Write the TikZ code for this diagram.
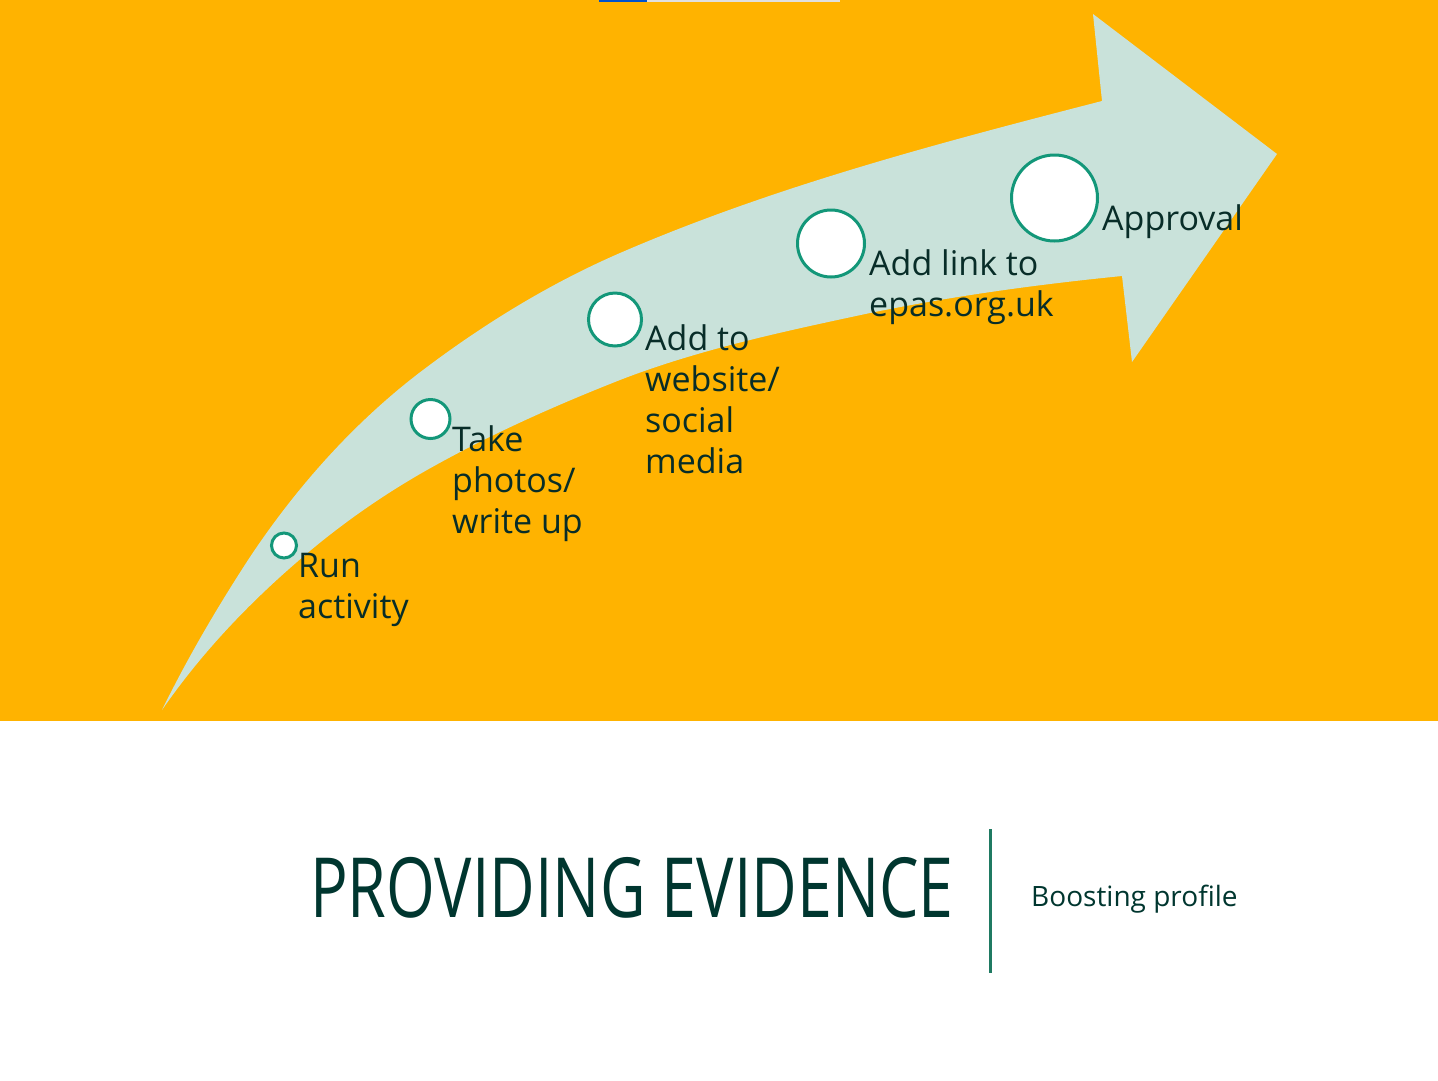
\documentclass[tikz,border=0pt]{standalone}
\usepackage{fontspec}
\setmainfont{Open Sans}
\newfontfamily\titlefont[FakeStretch=0.755]{Open Sans}
\usepackage{tikz}

\definecolor{epasorange}{HTML}{FFB300}
\definecolor{epasmint}{HTML}{C9E2DA}
\definecolor{epasteal}{HTML}{139779}
\definecolor{epasdark}{HTML}{082D28}
\definecolor{epastitle}{HTML}{00362F}
\definecolor{epasline}{HTML}{1F7A62}

\begin{document}
\begin{tikzpicture}[%show background rectangle,
        x=1pt, y=-1pt,
        stepdot/.style={circle, draw=epasteal, line width=3pt, fill=white, inner sep=0pt},
        steplabel/.style={anchor=base west, align=left, inner sep=0pt, text=epasdark,
            font=\fontsize{34}{41}\selectfont},
        >=latex % Voreinstellung fuer Pfeilspitzen
        ]
            \useasboundingbox (0,0) rectangle (1438,1080);

            % Hintergrund
            \fill [white]       (0,0) rectangle (1438,1080);
            \fill [epasorange]  (0,0) rectangle (1438,721);
            \fill [blue!60!cyan!80!black] (599,0) rectangle (647,2);
            \fill [black!12]    (647,0) rectangle (840,2);

            % Pfeil
            \fill [epasmint]    (162,710) .. controls (188,657) and (218,606) .. (250,557)
                                .. controls (298,485) and (357,419) .. (427,367)
                                .. controls (487,322) and (551,283) .. (620,253)
                                .. controls (775,186) and (939,143) .. (1102,101)
                                -- (1093,14) -- (1277,154) -- (1132,362) -- (1122,276)
                                .. controls (1037,284.5) and (953,296) .. (870,313)
                                .. controls (786,331) and (700,349) .. (620,380)
                                .. controls (554,406) and (489,435) .. (427,470)
                                .. controls (381,496) and (337,527) .. (297,562)
                                .. controls (246,606) and (200,655) .. (162,710)
                                -- cycle;

            % Stationen
            \node [stepdot, minimum size=25pt] (c1) at (284,545.5) {};
            \node [stepdot, minimum size=39pt] (c2) at (430.5,419) {};
            \node [stepdot, minimum size=53pt] (c3) at (615,319.5) {};
            \node [stepdot, minimum size=67pt] (c4) at (831,243.5) {};
            \node [stepdot, minimum size=86pt] (c5) at (1054.5,198) {};

            % Beschriftung (Grundlinie der letzten Zeile)
            \node [steplabel] (l1) at (298,618)  {Run\\activity};
            \node [steplabel] (l2) at (452,533)  {Take\\photos/\\write up};
            \node [steplabel] (l3) at (645,473)  {Add to\\website/\\social\\media};
            \node [steplabel] (l4) at (869,316)  {Add link to\\epas.org.uk};
            \node [steplabel] (l5) at (1102,230) {Approval};

            % Titel
            \node [anchor=base west, inner sep=0pt, text=epastitle,
                   font=\titlefont\fontsize{83}{90}\selectfont] (title) at (310,917) {PROVIDING EVIDENCE};
            \node [anchor=base west, inner sep=0pt, text=epastitle,
                   font=\fontsize{28}{34}\selectfont] (subtitle) at (1031,906) {Boosting profile};

            \coordinate (sepTop) at (990,829);
            \coordinate (sepBot) at (990,973);
            \draw [epasline, line width=3pt] (sepTop) -- (sepBot);

        \end{tikzpicture}
\end{document}
